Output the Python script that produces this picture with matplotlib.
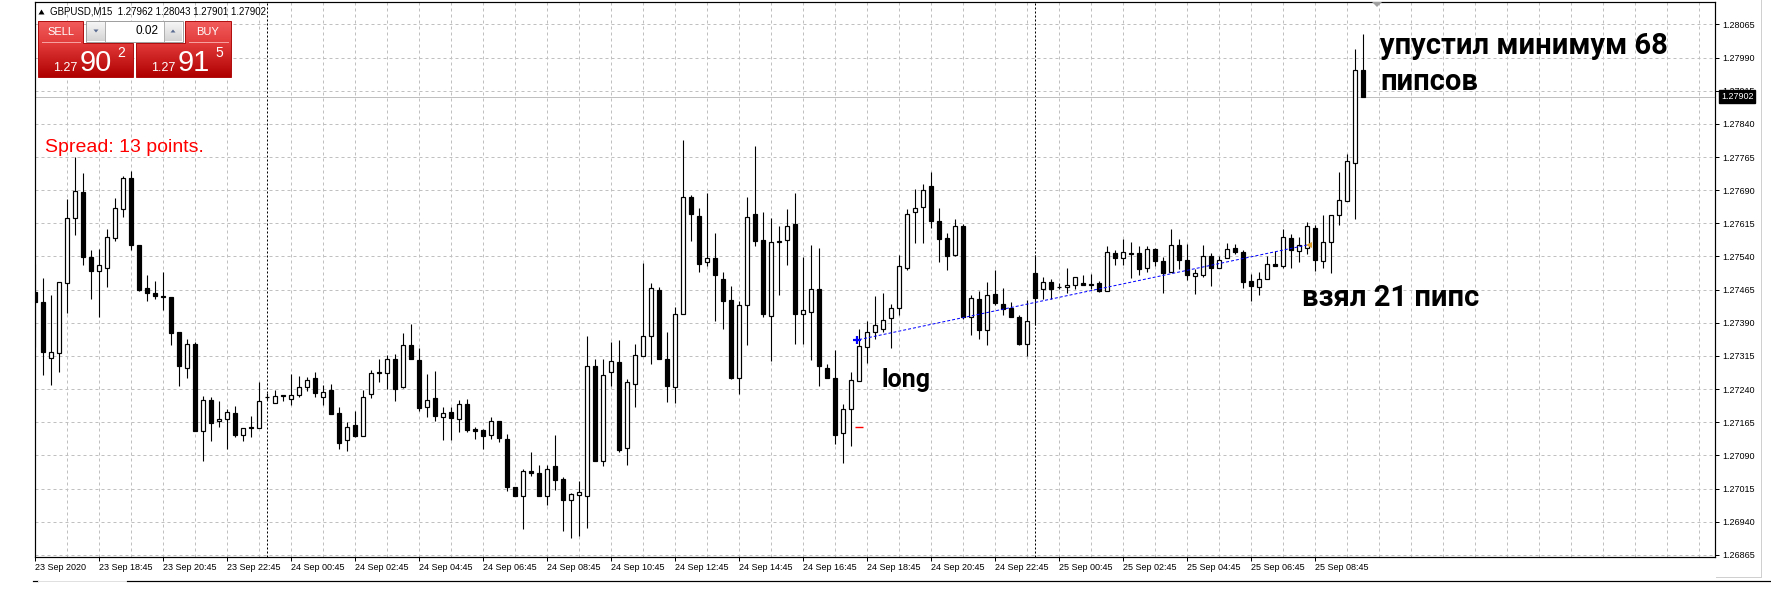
import matplotlib
matplotlib.use('Agg')
import matplotlib.pyplot as plt
import matplotlib.transforms as mtransforms
import numpy as np
import pandas as pd
from matplotlib.patches import Rectangle, Polygon
from matplotlib.colors import LinearSegmentedColormap

# ---------------- data ----------------
symbol = "GBPUSD,M15"
start_time = "2020-09-23 16:45"
header_ohlc = ["1.27962", "1.28043", "1.27901", "1.27902"]

opens = [1.27459, 1.27437, 1.27311, 1.27322, 1.27479, 1.27626, 1.27687, 1.27538, 1.27508, 1.27515,
         1.27581, 1.27648, 1.27718, 1.27565, 1.27468, 1.27458, 1.27450, 1.27448, 1.27369, 1.27288,
         1.27343, 1.27144, 1.27216, 1.27167, 1.27173, 1.27185, 1.27137, 1.27155, 1.27153, 1.27222,
         1.27209, 1.27226, 1.27218, 1.27227, 1.27245, 1.27264, 1.27223, 1.27239, 1.27185, 1.27124,
         1.27158, 1.27134, 1.27229, 1.27279, 1.27277, 1.27308, 1.27245, 1.27340, 1.27305, 1.27200,
         1.27219, 1.27177, 1.27187, 1.27173, 1.27206, 1.27149, 1.27147, 1.27135, 1.27167, 1.27128,
         1.27018, 1.26999, 1.27054, 1.27050, 1.26999, 1.27065, 1.27036, 1.26989, 1.27000, 1.26998,
         1.27293, 1.27077, 1.27279, 1.27302, 1.27106, 1.27252, 1.27315, 1.27360, 1.27464, 1.27309,
         1.27245, 1.27410, 1.27675, 1.27632, 1.27527, 1.27536, 1.27488, 1.27441, 1.27266, 1.27430,
         1.27637, 1.27578, 1.27405, 1.27572, 1.27578, 1.27614, 1.27410, 1.27414, 1.27466, 1.27288,
         1.27266, 1.27140, 1.27196, 1.27259, 1.27335, 1.27369, 1.27377, 1.27401, 1.27423, 1.27515,
         1.27641, 1.27653, 1.27700, 1.27621, 1.27581, 1.27544, 1.27610, 1.27403, 1.27443, 1.27373,
         1.27455, 1.27433, 1.27424, 1.27404, 1.27343, 1.27503, 1.27467, 1.27482, 1.27471, 1.27470,
         1.27475, 1.27480, 1.27478, 1.27479, 1.27462, 1.27549, 1.27536, 1.27549, 1.27547, 1.27513,
         1.27557, 1.27529, 1.27504, 1.27567, 1.27533, 1.27495, 1.27497, 1.27542, 1.27513, 1.27536,
         1.27559, 1.27551, 1.27484, 1.27470, 1.27488, 1.27523, 1.27518, 1.27581, 1.27553, 1.27559,
         1.27605, 1.27530, 1.27572, 1.27635, 1.27666, 1.27752, 1.27962]
highs = [1.27524, 1.27491, 1.27453, 1.27482, 1.27671, 1.27765, 1.27729, 1.27554, 1.27557, 1.27602,
         1.27673, 1.27723, 1.27733, 1.27567, 1.27497, 1.27485, 1.27504, 1.27448, 1.27369, 1.27354,
         1.27347, 1.27224, 1.27221, 1.27214, 1.27194, 1.27202, 1.27151, 1.27179, 1.27257, 1.27230,
         1.27237, 1.27227, 1.27273, 1.27269, 1.27268, 1.27279, 1.27249, 1.27251, 1.27199, 1.27165,
         1.27191, 1.27237, 1.27284, 1.27307, 1.27317, 1.27320, 1.27368, 1.27388, 1.27332, 1.27273,
         1.27281, 1.27199, 1.27199, 1.27215, 1.27217, 1.27155, 1.27149, 1.27176, 1.27167, 1.27138,
         1.27018, 1.27060, 1.27097, 1.27068, 1.27068, 1.27136, 1.27041, 1.27004, 1.27031, 1.27361,
         1.27309, 1.27309, 1.27347, 1.27352, 1.27262, 1.27343, 1.27525, 1.27480, 1.27470, 1.27369,
         1.27425, 1.27804, 1.27680, 1.27650, 1.27683, 1.27593, 1.27504, 1.27473, 1.27439, 1.27675,
         1.27791, 1.27641, 1.27628, 1.27609, 1.27647, 1.27683, 1.27538, 1.27567, 1.27560, 1.27296,
         1.27329, 1.27206, 1.27279, 1.27377, 1.27393, 1.27450, 1.27458, 1.27433, 1.27543, 1.27648,
         1.27692, 1.27703, 1.27732, 1.27650, 1.27594, 1.27624, 1.27613, 1.27452, 1.27463, 1.27482,
         1.27510, 1.27469, 1.27437, 1.27407, 1.27442, 1.27544, 1.27494, 1.27489, 1.27479, 1.27514,
         1.27493, 1.27497, 1.27500, 1.27485, 1.27563, 1.27555, 1.27579, 1.27572, 1.27563, 1.27564,
         1.27560, 1.27538, 1.27602, 1.27579, 1.27568, 1.27512, 1.27565, 1.27549, 1.27540, 1.27570,
         1.27569, 1.27555, 1.27500, 1.27504, 1.27542, 1.27553, 1.27602, 1.27590, 1.27583, 1.27617,
         1.27611, 1.27635, 1.27635, 1.27732, 1.27771, 1.28010, 1.28043]
lows = [1.27335, 1.27272, 1.27249, 1.27279, 1.27412, 1.27589, 1.27521, 1.27443, 1.27402, 1.27472,
        1.27575, 1.27629, 1.27555, 1.27462, 1.27440, 1.27443, 1.27420, 1.27339, 1.27247, 1.27266,
        1.27144, 1.27077, 1.27123, 1.27155, 1.27105, 1.27131, 1.27122, 1.27131, 1.27153, 1.27215,
        1.27209, 1.27213, 1.27203, 1.27222, 1.27236, 1.27221, 1.27204, 1.27184, 1.27105, 1.27099,
        1.27131, 1.27133, 1.27219, 1.27255, 1.27240, 1.27213, 1.27242, 1.27308, 1.27190, 1.27176,
        1.27168, 1.27125, 1.27124, 1.27143, 1.27143, 1.27128, 1.27104, 1.27128, 1.27120, 1.27009,
        1.26999, 1.26923, 1.27044, 1.26997, 1.26978, 1.27011, 1.26919, 1.26903, 1.26907, 1.26925,
        1.27077, 1.27065, 1.27246, 1.27098, 1.27069, 1.27200, 1.27315, 1.27296, 1.27308, 1.27210,
        1.27208, 1.27410, 1.27575, 1.27506, 1.27519, 1.27395, 1.27375, 1.27263, 1.27229, 1.27339,
        1.27563, 1.27402, 1.27303, 1.27453, 1.27521, 1.27341, 1.27341, 1.27305, 1.27247, 1.27265,
        1.27116, 1.27072, 1.27112, 1.27259, 1.27298, 1.27354, 1.27369, 1.27333, 1.27408, 1.27510,
        1.27570, 1.27570, 1.27605, 1.27528, 1.27510, 1.27540, 1.27399, 1.27363, 1.27353, 1.27339,
        1.27431, 1.27407, 1.27404, 1.27340, 1.27314, 1.27384, 1.27444, 1.27444, 1.27467, 1.27458,
        1.27467, 1.27476, 1.27467, 1.27459, 1.27461, 1.27521, 1.27521, 1.27492, 1.27499, 1.27504,
        1.27519, 1.27457, 1.27504, 1.27512, 1.27487, 1.27454, 1.27493, 1.27473, 1.27513, 1.27536,
        1.27545, 1.27469, 1.27440, 1.27453, 1.27488, 1.27519, 1.27513, 1.27514, 1.27527, 1.27545,
        1.27508, 1.27515, 1.27503, 1.27612, 1.27666, 1.27624, 1.27901]
closes = [1.27438, 1.27324, 1.27324, 1.27482, 1.27626, 1.27689, 1.27538, 1.27508, 1.27521, 1.27583,
          1.27650, 1.27718, 1.27566, 1.27465, 1.27457, 1.27450, 1.27448, 1.27367, 1.27292, 1.27342,
          1.27144, 1.27215, 1.27164, 1.27173, 1.27189, 1.27137, 1.27151, 1.27153, 1.27214, 1.27223,
          1.27224, 1.27224, 1.27227, 1.27245, 1.27261, 1.27232, 1.27234, 1.27184, 1.27117, 1.27155,
          1.27134, 1.27223, 1.27277, 1.27277, 1.27308, 1.27240, 1.27340, 1.27308, 1.27197, 1.27216,
          1.27178, 1.27185, 1.27175, 1.27207, 1.27147, 1.27146, 1.27134, 1.27167, 1.27130, 1.27018,
          1.26999, 1.27054, 1.27049, 1.26999, 1.27060, 1.27035, 1.26990, 1.27002, 1.27007, 1.27293,
          1.27077, 1.27272, 1.27304, 1.27103, 1.27257, 1.27317, 1.27360, 1.27468, 1.27308, 1.27247,
          1.27410, 1.27675, 1.27636, 1.27524, 1.27536, 1.27497, 1.27440, 1.27265, 1.27430, 1.27630,
          1.27575, 1.27409, 1.27572, 1.27576, 1.27610, 1.27409, 1.27419, 1.27466, 1.27293, 1.27265,
          1.27136, 1.27194, 1.27261, 1.27338, 1.27369, 1.27385, 1.27396, 1.27423, 1.27518, 1.27637,
          1.27650, 1.27691, 1.27620, 1.27580, 1.27542, 1.27610, 1.27402, 1.27446, 1.27373, 1.27452,
          1.27435, 1.27422, 1.27404, 1.27343, 1.27394, 1.27447, 1.27482, 1.27467, 1.27470, 1.27475,
          1.27493, 1.27476, 1.27476, 1.27463, 1.27551, 1.27536, 1.27551, 1.27546, 1.27512, 1.27557,
          1.27529, 1.27503, 1.27567, 1.27533, 1.27497, 1.27503, 1.27542, 1.27513, 1.27533, 1.27558,
          1.27551, 1.27483, 1.27473, 1.27488, 1.27524, 1.27519, 1.27585, 1.27555, 1.27565, 1.27608,
          1.27533, 1.27572, 1.27635, 1.27668, 1.27755, 1.27963, 1.27902]

bid_price = 1.27902
sell_parts = ("1.27", "90", "2")
buy_parts = ("1.27", "91", "5")
lot_text = "0.02"
spread_text = "Spread: 13 points."

entry_idx, entry_price = 103, 1.27352
exit_idx, exit_price = 159, 1.27566
stop_idx, stop_price = 103, 1.27155

note_long = "long"
note_taken = "взял 21 пипс"
note_missed = ["упустил минимум 68", "пипсов"]

# price-axis levels and view
price_step = 0.00075
price_base = 1.26865
n_levels = 17
y_bottom, y_top = 1.26860, 1.28117

# ---------------- figure ----------------
W, H = 1771, 591
fig = plt.figure(figsize=(W / 100, H / 100), dpi=100)
fig.patch.set_facecolor('white')
L, R, T, B = 34.5, 1715.0, 1.5, 557.0
ax = fig.add_axes([L / W, 1 - B / H, (R - L) / W, (B - T) / H])
ax.set_facecolor('white')

n = len(opens)
x = np.arange(n)
o = np.array(opens); h = np.array(highs); l = np.array(lows); c = np.array(closes)
times = pd.date_range(start_time, periods=n, freq='15min')

ax.set_xlim(-0.1, 210.0)
ax.set_ylim(y_bottom, y_top)

PX = 0.72  # one pixel in points

# grid
levels = np.round(price_base + price_step * np.arange(n_levels), 5)
for lv in levels:
    ax.axhline(lv, color='#c0c0c0', lw=PX, ls=(0, (3, 3)), zorder=0.5)
for gx in range(4, 210, 4):
    ax.axvline(gx, color='#c0c0c0', lw=PX, ls=(0, (3, 3)), zorder=0.5)

# day separators
for i in range(1, n):
    if times[i].day != times[i - 1].day:
        ax.axvline(i, color='black', lw=PX, ls=(0, (2, 2)), zorder=1)

# bid line
ax.axhline(bid_price, color='#c0c0c0', lw=PX, zorder=1)

# candles
ax.vlines(x, l, h, color='black', lw=PX * 1.1, zorder=2)
bull = c >= o
bw = 0.5
ax.bar(x[bull], (c - o)[bull], bottom=o[bull], width=bw, color='white',
       edgecolor='black', lw=PX * 1.2, zorder=3)
ax.bar(x[~bull], (o - c)[~bull], bottom=c[~bull], width=bw, color='black',
       edgecolor='black', lw=PX * 1.2, zorder=3)

# trade
ax.plot([entry_idx, exit_idx], [entry_price, exit_price], color='#0000ff',
        lw=PX, ls=(0, (3, 2)), zorder=4)
ax.plot([entry_idx - 0.3], [entry_price], marker='+', color='#0000ff',
        ms=6, mew=1.6, zorder=5)
ax.plot([stop_idx], [stop_price], marker='_', color='#ff0000', ms=6, mew=1.0, zorder=5)
ax.plot([exit_idx + 0.2], [exit_price], marker='<', color='#e0a030', ms=4.5,
        mew=0, zorder=5)

# axes styling
for s in ax.spines.values():
    s.set_color('black'); s.set_linewidth(PX * 1.2)
ax.yaxis.tick_right()
ax.set_yticks(levels)
ax.set_yticklabels([f"{v:.5f}" for v in levels])
ax.tick_params(axis='y', length=3, width=PX, pad=2, labelsize=6.5, direction='out',
               labelfontfamily='Liberation Sans')
xt = list(range(0, n, 8))
xl = [times[0].strftime('%d %b %Y')] + [times[i].strftime('%d %b %H:%M') for i in xt[1:]]
ax.set_xticks(xt)
ax.set_xticklabels(xl)
ax.tick_params(axis='x', length=3, width=PX, pad=1.5, labelsize=6.5, direction='out',
               labelfontfamily='Liberation Sans')
for t in ax.get_xticklabels():
    t.set_horizontalalignment('left')

# current price box
trans = mtransforms.blended_transform_factory(ax.transAxes, ax.transData)
ax.text(1.0035, bid_price, f"{bid_price:.5f}", transform=trans, ha='left', va='center',
        fontsize=6.5, family='Liberation Sans', color='white', zorder=10, clip_on=False,
        bbox=dict(boxstyle='square,pad=0.18', fc='black', ec='black'))

# ---------------- overlay in pixel coords ----------------
ov = fig.add_axes([0, 0, 1, 1], zorder=5)
ov.patch.set_alpha(0)
ov.axis('off')


def grad(x0, x1, y0, y1, ctop, cbot, z=6):
    cmap = LinearSegmentedColormap.from_list('g', [ctop, cbot])
    arr = np.linspace(0, 1, 64).reshape(-1, 1)
    ov.imshow(arr, cmap=cmap, extent=(x0, x1, y1, y0), aspect='auto',
              interpolation='bilinear', zorder=z)


# SELL block
grad(38, 83, 21, 43, '#f25c5c', '#e23c3c')
grad(38, 133, 43, 77, '#e23a3a', '#b00000')
grad(185, 231, 21, 43, '#f25c5c', '#e23c3c')
grad(136, 231, 43, 77, '#e23a3a', '#b00000')
ov.plot([42, 80], [42, 42], color='#f6a0a0', lw=PX, zorder=7)
ov.plot([189, 228], [42, 42], color='#f6a0a0', lw=PX, zorder=7)
for poly in ([(38, 21), (83, 21), (83, 43), (133, 43), (133, 77), (38, 77)],
             [(185, 21), (231, 21), (231, 77), (136, 77), (136, 43), (185, 43)]):
    ov.add_patch(Polygon(poly, closed=True, fill=False, ec='#b01010', lw=PX, zorder=7))

# lot field
ov.add_patch(Rectangle((86, 21), 97, 21, fc='white', ec='#a0a0a0', lw=PX, zorder=6))
grad(87, 105, 22, 41, '#f6f6f6', '#d4d4d4', z=7)
grad(164, 182, 22, 41, '#f6f6f6', '#d4d4d4', z=7)
ov.plot([105, 105], [22, 41], color='#b0b0b0', lw=PX, zorder=7)
ov.plot([164, 164], [22, 41], color='#b0b0b0', lw=PX, zorder=7)
ov.add_patch(Polygon([(93.5, 29.5), (98.5, 29.5), (96, 32.5)], fc='#5a6a90', ec='none', zorder=8))
ov.add_patch(Polygon([(170.5, 32.5), (175.5, 32.5), (173, 29.5)], fc='#5a6a90', ec='none', zorder=8))
ov.text(159, 31.5, lot_text, ha='right', va='center', fontsize=8.5,
        family='Liberation Sans', color='black', zorder=8)

ov.text(60.5, 32, "SELL", ha='center', va='center', fontsize=8, family='Liberation Sans',
        color='white', zorder=8)
ov.text(208, 32, "BUY", ha='center', va='center', fontsize=8, family='Liberation Sans',
        color='white', zorder=8)
for (small, big, sup), x0 in ((sell_parts, 53), (buy_parts, 151)):
    ov.text(x0, 71, small, ha='left', va='baseline', fontsize=9, family='Liberation Sans',
            color='white', zorder=8)
    ov.text(x0 + 27, 71, big, ha='left', va='baseline', fontsize=21, family='Liberation Sans',
            color='white', zorder=8)
    ov.text(x0 + 64, 57, sup, ha='left', va='baseline', fontsize=10, family='Liberation Sans',
            color='white', zorder=8)

# header
ov.add_patch(Polygon([(38.5, 14.5), (44.5, 14.5), (41.5, 9.5)], fc='black', ec='none', zorder=8))
ov.text(50, 12, symbol + "  " + " ".join(header_ohlc), ha='left', va='center', fontsize=7,
        family='Liberation Sans', color='black', zorder=8)

# spread
ov.text(45, 152.5, spread_text, ha='left', va='baseline', fontsize=14,
        family='Liberation Sans', color='#ff0000', zorder=8)

# annotations
ov.text(882, 386.5, note_long, ha='left', va='baseline', fontsize=18, family='Roboto',
        weight='bold', color='black', zorder=8)
ov.text(1302, 306, note_taken, ha='left', va='baseline', fontsize=21, family='Roboto',
        weight='bold', color='black', zorder=8)
ov.text(1380, 53.5, note_missed[0], ha='left', va='baseline', fontsize=21, family='Roboto',
        weight='bold', color='black', zorder=8)
ov.text(1380, 90, note_missed[1], ha='left', va='baseline', fontsize=21, family='Roboto',
        weight='bold', color='black', zorder=8)

# chart shift marker
ov.add_patch(Polygon([(1372, 2), (1382, 2), (1377, 7)], fc='#a0a0a0', ec='none', zorder=8))

# window borders
ov.plot([1761, 1761], [0, 577], color='#d0d0d0', lw=PX, zorder=8)
ov.plot([1716, 1761], [577, 577], color='#d0d0d0', lw=PX, zorder=8)
ov.plot([33, 38], [580.5, 580.5], color='black', lw=PX * 1.2, zorder=8)
ov.plot([38, 127], [580.5, 580.5], color='#e0e0e0', lw=PX, zorder=8)
ov.plot([127, 1771], [580.5, 580.5], color='black', lw=PX * 1.2, zorder=8)

ov.set_xlim(0, W)
ov.set_ylim(H, 0)

fig.savefig('out.png', dpi=100)
